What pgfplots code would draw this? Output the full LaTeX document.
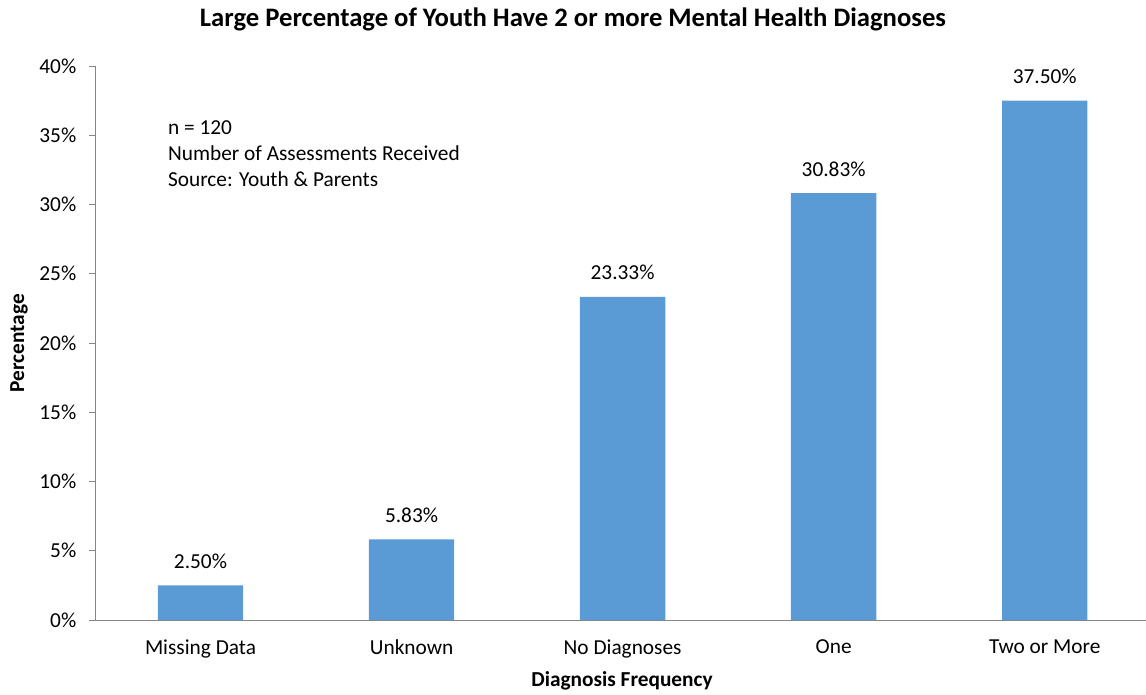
\documentclass[border=0pt]{standalone}
\usepackage{pgfplots}
\pgfplotsset{compat=1.18}
\usepackage{fontspec}
\setmainfont{Carlito}
\definecolor{barblue}{HTML}{5B9BD5}
\definecolor{axgray}{HTML}{868686}
\begin{document}
\begin{tikzpicture}
\path[use as bounding box] (0,0) rectangle (859.5pt,520.5pt);
\begin{axis}[
  at={(71.25pt,55.5pt)}, anchor=south west,
  scale only axis, width=788.25pt, height=415.5pt,
  ymin=0, ymax=40, ytick={0,5,...,40},
  xmin=-0.5, xmax=4.48,
  xtick={0,1,2,3,4},
  xticklabels={Missing Data,Unknown,No Diagnoses,One,Two or More},
  extra x ticks={-0.5,0.5,1.5,2.5,3.5},
  extra x tick labels={},
  extra x tick style={major tick length=4.5pt, tick style={draw=axgray, line width=0.75pt}},
  major x tick style={draw=none},
  axis x line=bottom, axis y line=left,
  axis line style={-, draw=axgray, line width=0.75pt},
  ytick style={draw=axgray, line width=0.75pt},
  tick align=outside, major tick length=4.5pt,
  /pgf/number format/assume math mode=true,
  ticklabel style={font=\fontsize{16}{19.5}\selectfont, text=black},
  xticklabel style={yshift=-7pt},
  yticklabel style={xshift=-6pt},
  yticklabel={\pgfmathprintnumber{\tick}\%},
  ybar, bar width=64pt,
  nodes near coords={\pgfmathprintnumber[fixed,fixed zerofill,precision=2]{\pgfplotspointmeta}\%},
  every node near coord/.append style={font=\fontsize{16}{19.5}\selectfont, text=black, yshift=9pt},
  clip=false,
]
\addplot[fill=barblue, draw=none] coordinates {(0,2.50) (1,5.83) (2,23.33) (3,30.83) (4,37.50)};
\node[anchor=north west, align=left, font=\fontsize{16}{19.5}\selectfont, inner sep=0pt] at (axis cs:-0.155,36.04) {n = 120\\Number of Assessments Received\\Source: Youth \& Parents};
\end{axis}
\node[font=\fontsize{20}{24}\selectfont\bfseries] at (429.75pt,506.25pt) {Large Percentage of Youth Have 2 or more Mental Health Diagnoses};
\node[font=\fontsize{16}{19.5}\selectfont\bfseries] at (466.5pt,9.75pt) {Diagnosis Frequency};
\node[font=\fontsize{16}{19.5}\selectfont\bfseries, rotate=90] at (14.25pt,263.25pt) {Percentage};
\end{tikzpicture}
\end{document}
